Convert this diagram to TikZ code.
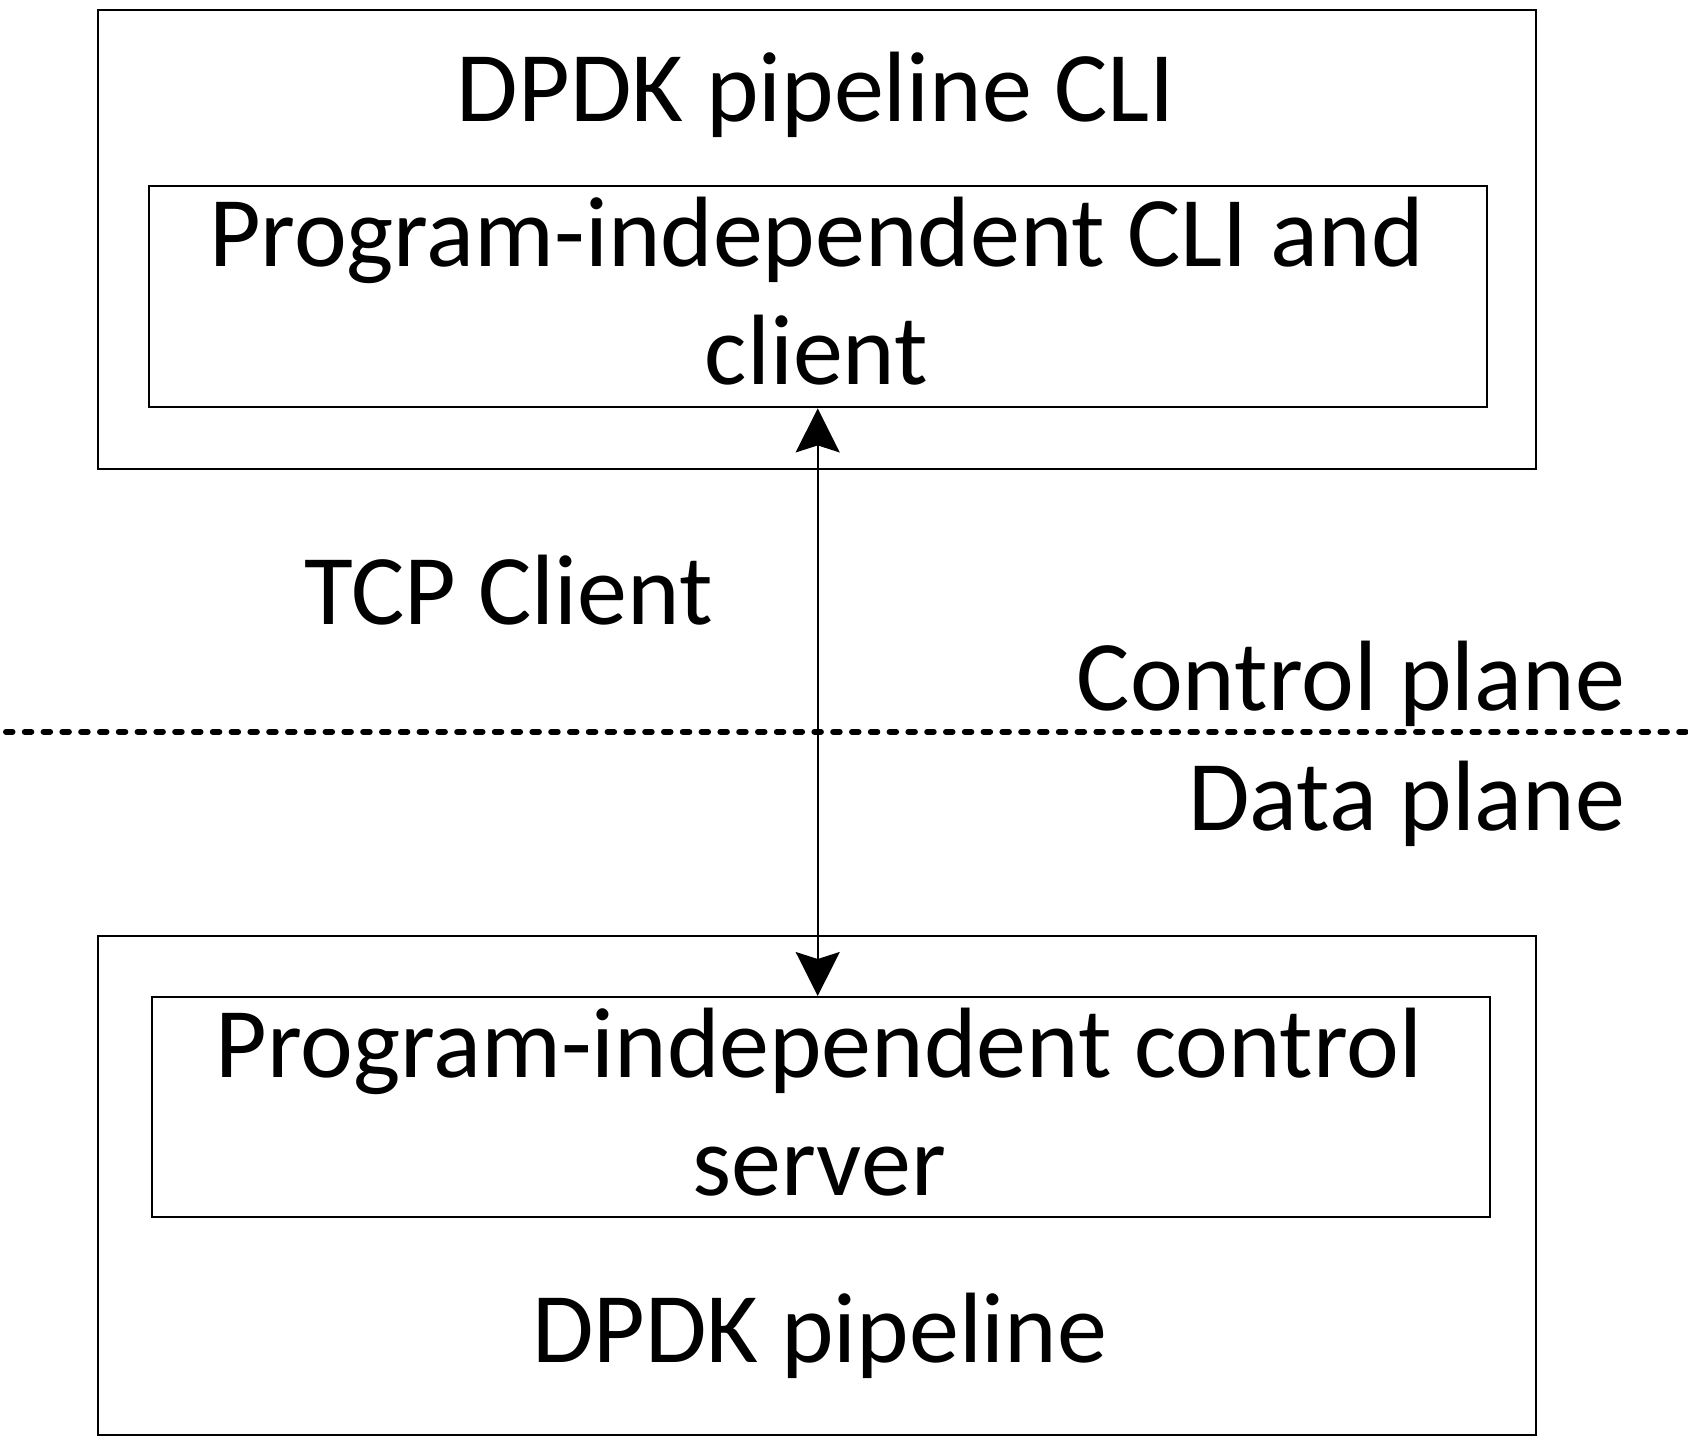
\documentclass[tikz,border=0pt]{standalone}
\usepackage{fontspec}
\setmainfont{Carlito}
\usetikzlibrary{arrows.meta}
\begin{document}
\begin{tikzpicture}[x=1pt,y=-1pt,
  box/.style={draw, line width=2.4pt, inner sep=0pt, anchor=north west},
  lbl/.style={font=\fontsize{100}{118}\selectfont, inner sep=0pt, align=center},
  conn/.style={line width=1.8pt, {Stealth[length=44pt,width=44pt,inset=7pt]}-{Stealth[length=44pt,width=44pt,inset=7pt]}},
  divider/.style={line width=6pt, line cap=round, dash pattern=on 6.5pt off 12.3pt},
]
\useasboundingbox (0,0) rectangle (1688,1444);
% boxes
\node[box, minimum width=1438pt, minimum height=459pt] (cliout) at (97,9) {};
\node[box, minimum width=1338pt, minimum height=221pt] (cliin) at (147.5,185) {};
\node[box, minimum width=1438pt, minimum height=499pt] (srvout) at (97,934.5) {};
\node[box, minimum width=1338pt, minimum height=220pt] (srvin) at (150.7,996) {};
% texts
\node[lbl, anchor=base] (tcli) at (816,121.6) {DPDK pipeline CLI};
\node[lbl, anchor=base] (tcliin) at (816.5,384.3) {Program-independent CLI and\\client};
\node[lbl, anchor=base] (tsrvin) at (819,1195) {Program-independent control\\server};
\node[lbl, anchor=base] (tsrv) at (819.7,1362) {DPDK pipeline};
\node[lbl, anchor=base east] (ttcp) at (713,624.5) {TCP Client};
\node[lbl, anchor=base east] (tcp) at (1625.5,710.5) {Control plane};
\node[lbl, anchor=base east] (tdp) at (1625.5,830) {Data plane};
% divider
\coordinate (dl) at (6,731.7);
\coordinate (dr) at (1688,731.7);
\draw[divider] (dl) -- (dr);
% connector
\draw[conn] (cliin.south) -- (cliin.south |- srvin.north);
\end{tikzpicture}
\end{document}
